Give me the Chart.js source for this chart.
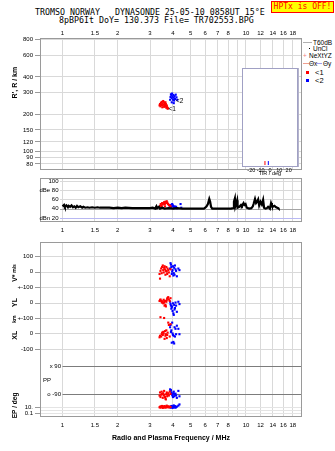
<!DOCTYPE html>
<html>
<head>
<meta charset="utf-8">
<script src="https://cdn.jsdelivr.net/npm/chart.js@4/dist/chart.umd.min.js"></script>
<style>
  body { margin:0; background:#fff; width:335px; height:451px; position:relative; overflow:hidden; font-family:"Liberation Sans", Arial, sans-serif; }
  canvas { position:absolute; left:0; }
  .hdr { position:absolute; font:8.3px "DejaVu Sans Mono", monospace; white-space:pre; color:#000; line-height:9px; }
  #hptx { position:absolute; left:271px; top:1px; width:61px; height:10px; background:#ff0; border:1px solid #f00; color:#f00; font:8px "DejaVu Sans Mono", monospace; line-height:10px; text-align:center; white-space:pre; }
  .lg { position:absolute; font:6.5px "Liberation Sans", Arial, sans-serif; line-height:7px; color:#000; white-space:pre; }
  .sw { position:absolute; }
</style>
</head>
<body>
<div class="hdr" style="left:35px;top:8px">TROMSO NORWAY   DYNASONDE 25-05-10 0858UT 15°E</div>
<div class="hdr" style="left:59px;top:16px">8pBP6It DoY= 130.373 File= TR702553.BPG</div>
<div id="hptx">HPTx is OFF!</div>

<div class="sw" style="left:303px;top:42px;width:9px;height:1px;background:#b0b0b0"></div>
<div class="lg" style="left:313px;top:39px">T60dB</div>
<div class="sw" style="left:309px;top:48px;width:1px;height:1px;background:#000"></div>
<div class="lg" style="left:313px;top:45px">UnCl</div>
<div class="lg" style="left:303px;top:52px;color:#f08080">+</div>
<div class="lg" style="left:309px;top:52px">NeXtYZ</div>
<div class="sw" style="left:303px;top:63px;width:6px;height:1px;background:#f0a090"></div>
<div class="lg" style="left:309px;top:60px">Θx</div>
<div class="sw" style="left:316px;top:63px;width:6px;height:1px;background:#a0a0f0"></div>
<div class="lg" style="left:323px;top:60px">Θy</div>
<div class="sw" style="left:306px;top:71px;width:3px;height:3px;background:#f00"></div>
<div class="lg" style="left:315px;top:69px;font-size:7.5px">&lt;1</div>
<div class="sw" style="left:306px;top:79px;width:3px;height:3px;background:#00f"></div>
<div class="lg" style="left:315px;top:77px;font-size:7.5px">&lt;2</div>

<canvas id="cR" width="335" height="152" style="top:22px"></canvas>
<canvas id="cT" width="72" height="118" style="top:63px;left:232px"></canvas>
<canvas id="cA" width="335" height="64" style="top:174px"></canvas>
<canvas id="cL" width="335" height="213" style="top:238px"></canvas>

<script>
const FONT = '"Liberation Sans", Arial, sans-serif';
const GRID = '#d9d9d9';
const FRAME = '#9a9a9a';
const RED = '#ff0000';
const BLUE = '#0000ff';

// frequency axis (MHz)
const FREQ_MIN = 0.754, FREQ_MAX = 20.2;
const FREQ_TICKS = [1, 1.5, 2, 3, 4, 5, 6, 7, 8, 9, 10, 12, 14, 16, 18];

// R' panel
const RANGE_TICKS = [80, 90, 100, 120, 150, 200, 300, 400, 600, 800];
const O_RANGE_F  = [3.38, 3.40, 3.42, 3.44, 3.46, 3.48, 3.50, 3.52, 3.54, 3.56, 3.58, 3.60, 3.62, 3.64, 3.66, 3.68, 3.70, 3.72, 3.74, 3.76, 3.50, 3.58, 3.64, 3.70];
const O_RANGE_KM = [236, 242, 232, 248, 238, 252, 244, 236, 256, 240, 230, 246, 238, 232, 242, 226, 236, 228, 222, 224, 228, 250, 250, 232];
const X_RANGE_F  = [3.86, 3.88, 3.90, 3.92, 3.94, 3.96, 3.98, 4.00, 4.02, 4.04, 4.06, 4.08, 4.10, 4.14, 4.18, 4.22, 3.94, 4.04];
const X_RANGE_KM = [262, 276, 290, 284, 270, 294, 278, 262, 286, 272, 258, 280, 266, 288, 274, 262, 250, 246];

// tilt inset
const TILT_TICKS = [-30, -20, -10, 0, 10, 20, 30];
const TILT_O = [-5.4];
const TILT_X = [-1.8];

// amplitude panel
const DB_TICKS  = [100, 80, 60, 40, 20];
const DB_LABELS = ['100', 'dBe 80', '60', '40', 'dBn 20'];
const NOISE_F  = [1.00, 1.02, 1.03, 1.05, 1.07, 1.08, 1.10, 1.12, 1.14, 1.16, 1.18, 1.20, 1.22, 1.25, 1.28, 1.30, 1.33, 1.37, 1.40, 1.45, 1.50, 1.55, 1.60, 1.70, 1.80, 1.90, 2.00, 2.10, 2.20, 2.40, 2.60, 2.80, 3.00, 3.10, 3.20, 3.25, 3.28, 3.35, 3.40, 3.50, 3.60, 3.80, 4.00, 4.20, 4.50, 5.00, 5.50, 5.90, 6.00, 6.10, 6.20, 6.31, 6.38, 6.45, 6.55, 7.00, 7.50, 8.00, 8.30, 8.50, 8.60, 8.70, 8.75, 8.95, 9.00, 9.20, 9.40, 9.50, 9.70, 9.80, 9.95, 10.10, 10.40, 10.70, 10.90, 11.00, 11.20, 11.35, 11.50, 11.65, 11.80, 12.00, 12.20, 12.40, 12.55, 12.80, 13.00, 13.20, 13.50, 13.70, 13.85, 14.00, 14.30, 14.60, 15.00, 15.10];
const NOISE_DB = [45, 48, 44, 47, 43, 46, 44, 47, 43, 45, 42, 46, 43, 45, 42, 44, 42, 43, 42, 43, 42, 43, 42, 42, 42, 41, 42, 41, 42, 41, 41, 41, 41, 42, 40, 45, 41, 44, 40, 42, 40, 41, 40, 41, 40, 40, 40, 40, 42, 45, 50, 61, 55, 44, 40, 40, 40, 40, 40, 41, 55, 62, 45, 58, 42, 44, 48, 46, 52, 48, 50, 42, 40, 41, 45, 50, 61, 52, 55, 60, 47, 55, 49, 59, 42, 40, 41, 44, 40, 52, 47, 44, 46, 43, 41, 40];
const O_AMP_F  = [3.40, 3.43, 3.46, 3.49, 3.52, 3.55, 3.58, 3.61, 3.64, 3.67, 3.70, 3.73, 3.76, 3.80, 3.84, 3.88, 3.47, 3.62];
const O_AMP_DB = [46, 50, 47, 52, 49, 51, 54, 50, 55, 52, 56, 53, 50, 48, 47, 45, 44, 45];
const X_AMP_F  = [3.84, 3.88, 3.92, 3.96, 4.00, 4.04, 4.08, 4.12, 4.16, 4.20, 4.40, 4.44, 3.98, 4.06];
const X_AMP_DB = [45, 48, 44, 50, 46, 43, 45, 42, 44, 41, 50, 42, 48, 41];

// lower panels: one value per echo
const O_FREQ = [3.38, 3.40, 3.42, 3.45, 3.47, 3.49, 3.52, 3.54, 3.56, 3.58, 3.60, 3.62, 3.64, 3.66, 3.68, 3.70, 3.72, 3.74, 3.77, 3.80, 3.84, 3.88];
const O_VEL  = [-15, -45, 5, 20, -10, 30, 40, 10, -5, 25, 35, 15, -20, 5, 30, 0, -15, 20, 10, -5, -30, 15];
const O_YL   = [10, 15, 20, 12, 5, 0, 8, -5, 18, 0, -20, 10, -15, -25, 5, 15, 25, 30, 35, 20, 10, 28];
const O_XL   = [-25, -15, 105, -20, -5, 5, -10, 10, 0, 100, -35, 15, -15, -5, 20, -30, -10, 5, 70, 55, -20, 60];
const O_PP   = [-100, -80, -110, -95, -75, -90, -115, -85, -100, -70, -95, -110, -120, -125, -90, -80, -105, -95, -85, -100, -75, -90];
const O_EP   = [8, 12, 6, 15, 9, 20, 5, 10, 14, 7, 18, 11, 6, 9, 13, 25, 8, 10, 16, 7, 12, 9];
const X_FREQ = [3.86, 3.88, 3.90, 3.92, 3.94, 3.96, 3.98, 4.00, 4.02, 4.04, 4.06, 4.08, 4.10, 4.13, 4.16, 4.20, 4.28, 4.34];
const X_VEL  = [20, 55, 45, 30, -15, 0, 10, 35, -25, -10, 25, -20, 40, 15, 5, -30, 20, 10];
const X_YL   = [5, -10, -20, -40, -30, -25, -55, -5, -70, -80, -15, -45, -35, 0, -20, -60, 5, -10];
const X_XL   = [40, 55, 10, 20, -60, 70, 0, -10, -55, -15, -65, 40, -20, 30, -5, 50, 30, -5];
const X_PP   = [-60, -70, -65, -80, -90, -95, -100, -110, -85, -75, -105, -90, -95, -88, -100, -115, -70, -105];
const X_EP   = [10, 6, 15, 8, 20, 12, 5, 9, 14, 30, 7, 11, 18, 6, 9, 13, 25, 60];

const VEL_TICKS = [100, 0, -100], VEL_LABELS = ['100', '0', '+-100'];
const YL_TICKS  = [0, -100],      YL_LABELS  = ['0', '+-100'];
const XL_TICKS  = [0, -100],      XL_LABELS  = ['0', '-100'];
const PP_TICKS  = [90, -90],      PP_LABELS  = ['x 90', 'o -90'];
const EP_TICKS  = [10, 1, 0.1],   EP_LABELS  = ['10.', '', '0.1'];

const pts = (xs, ys) => xs.map((x, i) => ({ x, y: ys[i] }));
const dots = (xs, ys, color, yAxisID = 'y') => ({
  data: pts(xs, ys), yAxisID, backgroundColor: color, borderWidth: 0, pointStyle: 'rect', pointRadius: 1.5
});

// frame, extra grid lines and side texts
const decor = {
  id: 'decor',
  beforeDatasetsDraw(chart, args, o) {
    const { ctx, chartArea: a, scales } = chart;
    ctx.save();
    if (o.fill) { ctx.fillStyle = o.fill; ctx.fillRect(a.left, a.top, a.right - a.left, a.bottom - a.top); }
    (o.lines || []).forEach(l => {
      const y = Math.round(scales[l.axis].getPixelForValue(l.value)) + 0.5;
      const x0 = l.fromFreq != null ? scales.x.getPixelForValue(l.fromFreq) : (l.fromPx != null ? l.fromPx : a.left);
      ctx.strokeStyle = l.color; ctx.lineWidth = l.width || 1;
      ctx.beginPath(); ctx.moveTo(x0, y); ctx.lineTo(a.right, y); ctx.stroke();
      if (l.tick) {
        ctx.strokeStyle = FRAME; ctx.lineWidth = 1;
        ctx.beginPath(); ctx.moveTo(a.left - 5, y); ctx.lineTo(a.left, y); ctx.stroke();
      }
    });
    ctx.restore();
  },
  afterDraw(chart, args, o) {
    const { ctx, chartArea: a, scales } = chart;
    ctx.save();
    ctx.strokeStyle = o.frame || FRAME; ctx.lineWidth = 1;
    ctx.strokeRect(a.left + 0.5, a.top + 0.5, a.right - a.left - 1, a.bottom - a.top - 1);
    (o.texts || []).forEach(t => {
      const y = scales[t.axis || 'y'].getPixelForValue(t.value);
      const x = t.freq != null ? scales.x.getPixelForValue(t.freq) : t.px;
      ctx.font = t.font || `6px ${FONT}`;
      ctx.fillStyle = t.color || '#000';
      ctx.textBaseline = 'middle';
      if (t.rotate) {
        ctx.save(); ctx.translate(x, y); ctx.rotate(-Math.PI / 2);
        ctx.textAlign = 'center'; ctx.fillText(t.text, 0, 0); ctx.restore();
      } else {
        ctx.textAlign = t.align || 'right';
        ctx.fillText(t.text, x, y);
      }
    });
    ctx.restore();
  }
};
Chart.register(decor);

function freqAxis(position, labels, skip9, height, pad) {
  return {
    type: 'logarithmic', position, min: FREQ_MIN, max: FREQ_MAX,
    afterBuildTicks: s => { s.ticks = FREQ_TICKS.map(v => ({ value: v })); },
    ticks: {
      display: labels, autoSkip: false, maxRotation: 0, minRotation: 0, padding: pad, color: '#000',
      font: { size: 6, family: FONT },
      callback: v => (skip9 && v === 9) ? '' : String(v)
    },
    grid: { color: GRID, drawTicks: false },
    border: { display: false },
    afterFit: s => { s.height = height; s.paddingLeft = 0; s.paddingRight = 0; }
  };
}
const leftAxis = extra => Object.assign({
  afterFit: s => { s.width = 40; s.paddingTop = 0; s.paddingBottom = 0; }
}, extra);
const hidden = (type, min, max) => ({ type, min, max, display: false, afterBuildTicks: s => { s.ticks = []; } });
const base = { responsive: false, animation: false, events: [], devicePixelRatio: 1,
               layout: { padding: { left: 0, right: 33, top: 0, bottom: 0 } } };

// R' / range panel
new Chart(document.getElementById('cR'), {
  type: 'scatter',
  data: { datasets: [ dots(O_RANGE_F, O_RANGE_KM, RED), dots(X_RANGE_F, X_RANGE_KM, BLUE) ] },
  options: Object.assign({}, base, {
    plugins: { legend: { display: false }, tooltip: { enabled: false },
      decor: { texts: [
        { px: 15, value: 360, text: "R', R / km", rotate: true, font: `bold 7px ${FONT}` },
        { freq: 3.78, value: 219, text: '<1', align: 'left', font: `6.5px ${FONT}` },
        { freq: 4.15, value: 255, text: '<2', align: 'left', font: `6.5px ${FONT}` }
      ] } },
    scales: {
      x: freqAxis('top', true, true, 16, 1.5),
      y: leftAxis({
        type: 'logarithmic', min: 71.4, max: 822,
        afterBuildTicks: s => { s.ticks = RANGE_TICKS.map(v => ({ value: v })); },
        ticks: { color: '#000', padding: 2, font: { size: 6, family: FONT }, callback: v => String(v) },
        grid: { color: GRID, tickLength: 5, tickColor: FRAME },
        border: { display: false }
      })
    }
  })
});

// tilt inset
new Chart(document.getElementById('cT'), {
  type: 'scatter',
  data: { datasets: [
    { data: TILT_O.map(x => ({ x, y: 0.04 })), borderColor: RED, borderWidth: 1, pointStyle: 'line', rotation: 90, pointRadius: 2 },
    { data: TILT_X.map(x => ({ x, y: 0.04 })), borderColor: BLUE, borderWidth: 1, pointStyle: 'line', rotation: 90, pointRadius: 2 }
  ] },
  options: {
    responsive: false, animation: false, events: [], devicePixelRatio: 1,
    layout: { padding: { left: 10, right: 6, top: 2, bottom: 0 } },
    plugins: { legend: { display: false }, tooltip: { enabled: false }, decor: { fill: '#fff', frame: '#a0a0c4' } },
    scales: {
      x: {
        type: 'linear', min: -30, max: 30,
        afterBuildTicks: s => { s.ticks = TILT_TICKS.map(v => ({ value: v })); },
        ticks: { autoSkip: false, maxRotation: 0, padding: 0, color: '#000', font: { size: 5.5, family: FONT },
                 callback: v => Math.abs(v) === 30 ? '' : String(v) },
        grid: { color: '#b4b4cc', drawTicks: false },
        border: { display: false },
        title: { display: true, text: 'TiR / deg', color: '#000', font: { size: 5.5, family: FONT }, padding: { top: 0, bottom: 4 } },
        afterFit: s => { s.height = 14; s.paddingLeft = 0; s.paddingRight = 0; }
      },
      y: { type: 'linear', min: 0, max: 1, display: false }
    }
  }
});

// amplitude panel
new Chart(document.getElementById('cA'), {
  type: 'scatter',
  data: { datasets: [
    { type: 'line', data: pts(NOISE_F, NOISE_DB), borderColor: '#000', borderWidth: 2.2, pointRadius: 0, tension: 0 },
    dots(O_AMP_F, O_AMP_DB, RED), dots(X_AMP_F, X_AMP_DB, BLUE)
  ] },
  options: Object.assign({}, base, {
    plugins: { legend: { display: false }, tooltip: { enabled: false },
      decor: {
        lines: DB_TICKS.map(v => ({ axis: 'y', value: v, fromPx: 60,
          color: v === 40 ? '#a4a4a4' : v === 20 ? '#b8b8f2' : GRID })),
        texts: DB_TICKS.map((v, i) => ({ px: 58.5, value: v, text: DB_LABELS[i] }))
      } },
    scales: {
      x: freqAxis('bottom', true, false, 16, 5),
      y: leftAxis({ type: 'linear', min: 11, max: 106.5, ticks: { display: false }, grid: { display: false }, border: { display: false } })
    }
  })
});

// V*, YL, XL, PP, EP panels
const lowerLines = [];
const lowerTexts = [];
[['y', VEL_TICKS, VEL_LABELS], ['yYL', YL_TICKS, YL_LABELS], ['yXL', XL_TICKS, XL_LABELS], ['yEP', EP_TICKS, EP_LABELS]].forEach(([axis, ticks, labels]) => {
  ticks.forEach((v, i) => {
    lowerLines.push({ axis, value: v, color: axis === 'yEP' ? '#e4e4e4' : GRID, tick: labels[i] !== '' });
    if (labels[i]) lowerTexts.push({ axis, value: v, px: 33, text: labels[i] });
  });
});
PP_TICKS.forEach((v, i) => {
  lowerLines.push({ axis: 'yPP', value: v, color: '#7c7c7c', fromFreq: 1 });
  lowerTexts.push({ axis: 'yPP', value: v, px: 61, text: PP_LABELS[i] });
});
lowerTexts.push(
  { axis: 'yPP', value: 0, px: 43, text: 'PP', align: 'left' },
  { axis: 'y', value: -42, px: 15, text: 'V*', rotate: true, font: `bold 7px ${FONT}` },
  { axis: 'y', value: 21, px: 15, text: 'm/s', rotate: true, font: `bold 5px ${FONT}` },
  { axis: 'yYL', value: 0, px: 15, text: 'YL', rotate: true, font: `bold 7px ${FONT}` },
  { axis: 'yXL', value: 93, px: 15, text: 'km', rotate: true, font: `bold 5px ${FONT}` },
  { axis: 'yXL', value: -12, px: 15, text: 'XL', rotate: true, font: `bold 7px ${FONT}` },
  { axis: 'yEP', value: 30, px: 15, text: 'EP / deg', rotate: true, font: `bold 6.5px ${FONT}` }
);

const lowerX = freqAxis('bottom', true, true, 34, 4.5);
lowerX.title = { display: true, text: 'Radio and Plasma Frequency / MHz', color: '#000',
                 font: { size: 7, weight: 'bold', family: FONT }, padding: { top: 0, bottom: 9 } };

new Chart(document.getElementById('cL'), {
  type: 'scatter',
  data: { datasets: [
    dots(O_FREQ, O_VEL, RED, 'y'),   dots(X_FREQ, X_VEL, BLUE, 'y'),
    dots(O_FREQ, O_YL, RED, 'yYL'),  dots(X_FREQ, X_YL, BLUE, 'yYL'),
    dots(O_FREQ, O_XL, RED, 'yXL'),  dots(X_FREQ, X_XL, BLUE, 'yXL'),
    dots(O_FREQ, O_PP, RED, 'yPP'),  dots(X_FREQ, X_PP, BLUE, 'yPP'),
    dots(O_FREQ, O_EP, RED, 'yEP'),  dots(X_FREQ, X_EP, BLUE, 'yEP')
  ] },
  options: Object.assign({}, base, {
    plugins: { legend: { display: false }, tooltip: { enabled: false }, decor: { lines: lowerLines, texts: lowerTexts } },
    scales: {
      x: lowerX,
      y: leftAxis({ type: 'linear', min: -941, max: 192, ticks: { display: false }, grid: { display: false }, border: { display: false } }),
      yYL: hidden('linear', -741, 392),
      yXL: hidden('linear', -541, 592),
      yPP: hidden('linear', -239, 894),
      yEP: hidden('logarithmic', 0.0076, 1.3e52)
    }
  })
});
</script>
</body>
</html>
